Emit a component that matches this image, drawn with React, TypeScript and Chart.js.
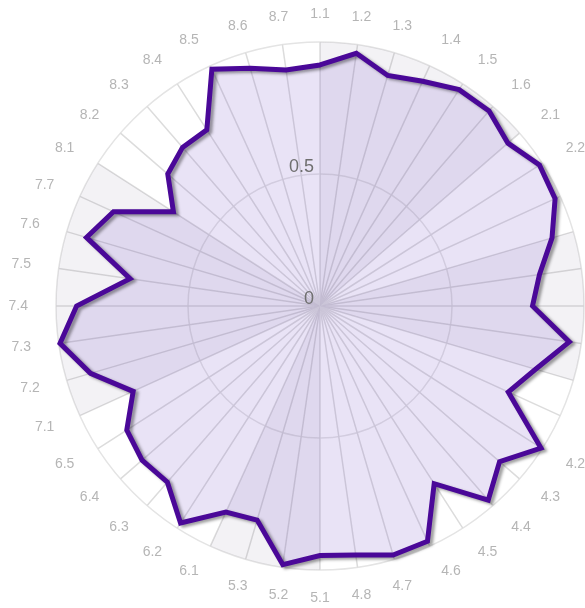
import React, { useEffect, useRef } from 'react';
import { Chart, registerables } from 'chart.js';

Chart.register(...registerables);

const categories = [
  '1.1', '1.2', '1.3', '1.4', '1.5', '1.6',
  '2.1', '2.2', '2.3',
  '3.1', '3.2', '3.3', '3.4', '3.5',
  '4.1', '4.2', '4.3', '4.4', '4.5', '4.6', '4.7', '4.8',
  '5.1', '5.2', '5.3',
  '6.1', '6.2', '6.3', '6.4', '6.5',
  '7.1', '7.2', '7.3', '7.4', '7.5', '7.6', '7.7',
  '8.1', '8.2', '8.3', '8.4', '8.5', '8.6', '8.7',
];

const scores = [
  0.913, 0.967, 0.91, 0.936, 0.974, 0.978,
  0.942, 0.988, 0.979,
  0.916, 0.84, 0.805, 0.954, 0.851,
  0.784, 0.995, 0.9, 0.973, 0.8, 0.98, 0.983, 0.953,
  0.945, 0.99, 0.845,
  0.858, 0.977, 0.883, 0.892, 0.87,
  0.778, 0.906, 0.995, 0.922, 0.727, 0.922, 0.86,
  0.66, 0.763, 0.795, 0.793, 0.986, 0.939, 0.903,
];

// shaded group sectors (1 = shaded to full radius, 0 = none)
const groupBands = [
  1, 1, 1, 1, 1, 1,
  0, 0, 0,
  1, 1, 1, 1, 0,
  0, 0, 0, 0, 0, 0, 0, 0,
  1, 1, 1,
  0, 0, 0, 0, 0,
  1, 1, 1, 1, 1, 1, 1,
  0, 0, 0, 0, 0, 0, 0,
];

const scaleMin = 0;
const scaleMax = 1;
const scaleStep = 0.5;

const FONT = '"Liberation Sans", Arial, Helvetica, sans-serif';

const lineShadow = {
  id: 'lineShadow',
  beforeDatasetDraw(chart: any, args: any) {
    if (args.index !== 0) return;
    const ctx = chart.ctx;
    ctx.save();
    ctx.shadowColor = 'rgba(0,0,0,0.38)';
    ctx.shadowBlur = 3;
    ctx.shadowOffsetX = 3;
    ctx.shadowOffsetY = 2;
  },
  afterDatasetDraw(chart: any, args: any) {
    if (args.index !== 0) return;
    chart.ctx.restore();
  },
};

// tick values ("0", "0.5") drawn just above their ring, left of the axis
const tickLabels = {
  id: 'tickLabels',
  afterDatasetsDraw(chart: any) {
    const s = chart.scales.r;
    const ctx = chart.ctx;
    ctx.save();
    ctx.font = `18px ${FONT}`;
    ctx.fillStyle = '#6f6f6f';
    ctx.textAlign = 'right';
    ctx.textBaseline = 'alphabetic';
    s.ticks.forEach((t: any) => {
      if (t.value >= s.max) return;
      const d = s.getDistanceFromCenterForValue(t.value);
      ctx.fillText(String(t.label), s.xCenter - 6, s.yCenter - d - 2);
    });
    ctx.restore();
  },
};

// category labels outside the outer ring: centred near top/bottom, otherwise
// aligned away from the centre
const categoryLabels = {
  id: 'categoryLabels',
  afterDatasetsDraw(chart: any) {
    const s = chart.scales.r;
    const ctx = chart.ctx;
    const labels = chart.data.labels as string[];
    ctx.save();
    ctx.font = `14px ${FONT}`;
    ctx.fillStyle = '#b5b5b5';
    ctx.textBaseline = 'middle';
    labels.forEach((lab, i) => {
      const deg = (s.getIndexAngle(i) * 180) / Math.PI;
      const p = s.getPointPosition(i, s.drawingArea + 28);
      let align: CanvasTextAlign = 'center';
      if (deg > 20 && deg < 160) align = 'left';
      else if (deg > 200 && deg < 340) align = 'right';
      ctx.textAlign = align;
      ctx.fillText(lab, p.x, p.y);
    });
    ctx.restore();
  },
};

export default function App() {
  const ref = useRef<HTMLCanvasElement>(null);

  useEffect(() => {
    if (!ref.current) return;
    Chart.defaults.font.family = FONT;
    const chart = new Chart(ref.current, {
      type: 'radar',
      data: {
        labels: categories,
        datasets: [
          {
            label: 'Score',
            data: scores,
            borderColor: '#4a0898',
            borderWidth: 5,
            backgroundColor: 'rgba(120,80,200,0.16)',
            fill: true,
            pointRadius: 0,
            pointHoverRadius: 0,
            tension: 0,
            borderJoinStyle: 'miter',
          } as any,
          {
            type: 'polarArea',
            label: 'Groups',
            data: groupBands,
            backgroundColor: 'rgba(100,90,130,0.08)',
            borderWidth: 0,
          } as any,
        ],
      },
      options: {
        responsive: false,
        animation: false,
        devicePixelRatio: 1,
        layout: { padding: { top: 42, bottom: 38, left: 0, right: 0 } },
        plugins: {
          legend: { display: false },
          tooltip: { enabled: false },
        },
        scales: {
          r: {
            type: 'radialLinear',
            startAngle: 0,
            min: scaleMin,
            max: scaleMax,
            ticks: { stepSize: scaleStep, display: false },
            grid: { display: true, circular: true, color: '#e4e4e4', lineWidth: 1.5 },
            angleLines: { display: true, color: '#dcdcdc', lineWidth: 1.5 },
            pointLabels: { display: false },
          },
        },
      } as any,
      plugins: [lineShadow, tickLabels, categoryLabels],
    });
    return () => chart.destroy();
  }, []);

  return (
    <div
      style={{
        position: 'fixed',
        left: 0,
        top: 0,
        width: 585,
        height: 608,
        overflow: 'hidden',
        background: '#fff',
      }}
    >
      <canvas
        ref={ref}
        width={700}
        height={608}
        style={{ position: 'absolute', left: -30, top: 0, width: 700, height: 608 }}
      />
    </div>
  );
}
